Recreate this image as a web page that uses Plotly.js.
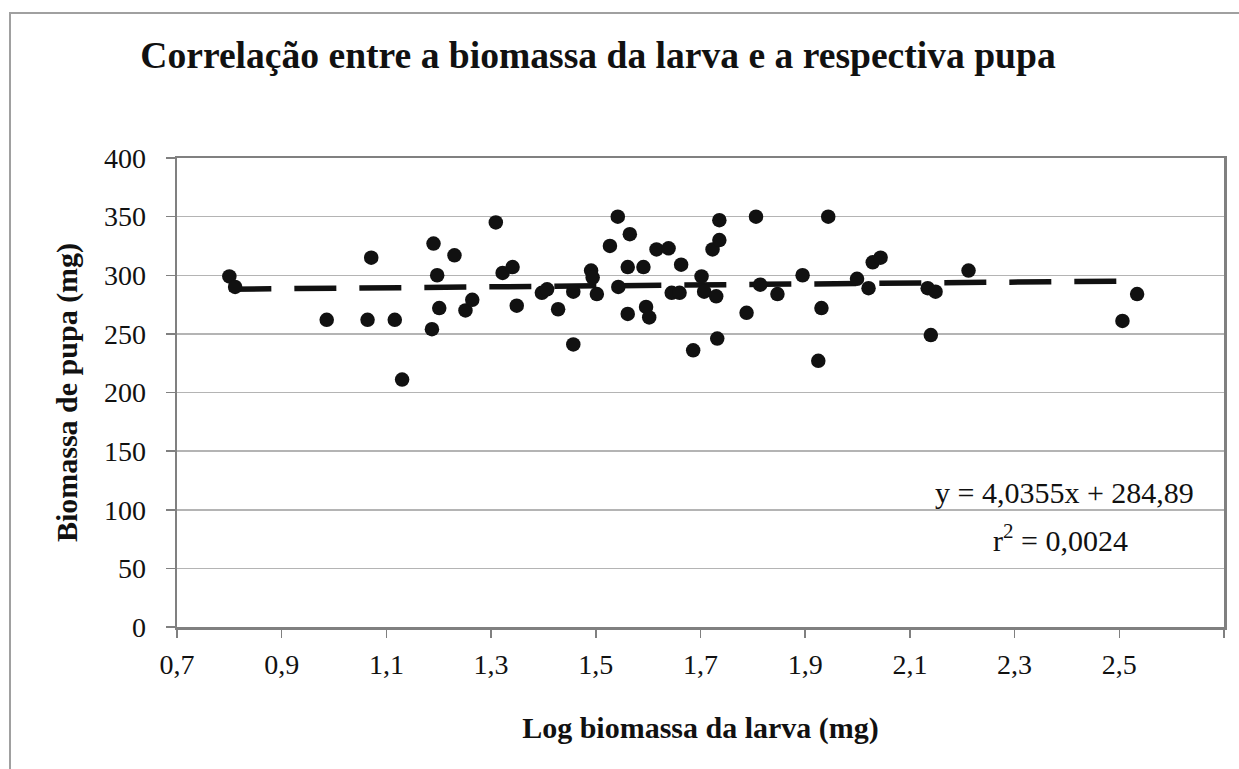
<!DOCTYPE html>
<html>
<head>
<meta charset="utf-8">
<script src="https://cdn.plot.ly/plotly-3.0.1.min.js"></script>
<style>
  html, body { margin: 0; padding: 0; background: #ffffff; }
  #chart { width: 1239px; height: 769px; }
</style>
</head>
<body>
<div id="chart"></div>
<script>
// Data
const logLarva = [
  0.800, 0.811, 0.986, 1.064, 1.071, 1.116, 1.130, 1.187, 1.190, 1.197,
  1.201, 1.230, 1.251, 1.264, 1.309, 1.322, 1.341, 1.349, 1.397, 1.407,
  1.428, 1.457, 1.457, 1.491, 1.494, 1.502, 1.527, 1.542, 1.543, 1.561,
  1.561, 1.565, 1.591, 1.596, 1.602, 1.616, 1.639, 1.645, 1.660, 1.663,
  1.686, 1.702, 1.707, 1.723, 1.730, 1.732, 1.736, 1.736, 1.788, 1.806,
  1.814, 1.847, 1.895, 1.925, 1.931, 1.944, 1.999, 2.021, 2.029, 2.044,
  2.134, 2.140, 2.149, 2.212, 2.506, 2.534
];
const pupaMass = [
  299, 290, 262, 262, 315, 262, 211, 254, 327, 300,
  272, 317, 270, 279, 345, 302, 307, 274, 285, 288,
  271, 241, 286, 304, 298, 284, 325, 350, 290, 307,
  267, 335, 307, 273, 264, 322, 323, 285, 285, 309,
  236, 299, 286, 322, 282, 246, 330, 347, 268, 350,
  292, 284, 300, 227, 272, 350, 297, 289, 311, 315,
  289, 249, 286, 304, 261, 284
];
// Trend line equation shown on the chart
const trendSlope = 4.0355;
const trendIntercept = 284.89;
const equationText = "y = 4,0355x + 284,89";
const r2Text = "r<sup>2</sup> = 0,0024";

const chartTitle = "Correlação entre a biomassa da larva e a respectiva pupa";
const xTitle = "Log biomassa da larva (mg)";
const yTitle = "Biomassa de pupa (mg)";

const xMin = Math.min(...logLarva);
const xMax = Math.max(...logLarva);
const trendX = [xMin, xMax];
const trendY = trendX.map(v => trendSlope * v + trendIntercept);

const serif = "Liberation Serif, Times New Roman, serif";

const traces = [
  {
    x: trendX, y: trendY,
    type: "scatter", mode: "lines",
    line: { color: "#111111", width: 5.5, dash: "42px,23px" },
    hoverinfo: "skip", showlegend: false
  },
  {
    x: logLarva, y: pupaMass,
    type: "scatter", mode: "markers",
    marker: { color: "#111111", size: 14.5 },
    showlegend: false
  }
];

const layout = {
  width: 1239, height: 769,
  margin: { l: 177, r: 15, t: 158, b: 142 },
  paper_bgcolor: "#ffffff", plot_bgcolor: "#ffffff",
  font: { family: serif, color: "#111111" },
  showlegend: false,
  title: {
    text: "<b>" + chartTitle + "</b>",
    font: { family: serif, size: 37.6, color: "#111111" },
    x: 598 / 1239, xref: "container", xanchor: "center",
    y: 1 - 55 / 769, yref: "container", yanchor: "middle"
  },
  xaxis: {
    range: [0.7, 2.7],
    tickvals: [0.7, 0.9, 1.1, 1.3, 1.5, 1.7, 1.9, 2.1, 2.3, 2.5, 2.7],
    tickformat: ".1f",
    ticks: "outside", ticklen: 8, tickwidth: 1.5, tickcolor: "#808080",
    ticklabelstandoff: 3,
    showgrid: false, zeroline: false,
    showline: true, linecolor: "#808080", linewidth: 2.5, mirror: true,
    tickfont: { family: serif, size: 28, color: "#111111" },
    title: {
      text: "<b>" + xTitle + "</b>",
      font: { family: serif, size: 30, color: "#111111" },
      standoff: 38
    }
  },
  yaxis: {
    range: [0, 400],
    dtick: 50,
    ticks: "outside", ticklen: 9, tickwidth: 1.5, tickcolor: "#808080",
    ticklabelstandoff: 14,
    showgrid: true, gridcolor: "#b4b4b4", gridwidth: 1.5,
    zeroline: false,
    showline: true, linecolor: "#808080", linewidth: 2.5, mirror: true,
    tickfont: { family: serif, size: 28, color: "#111111" },
    title: {
      text: "<b>" + yTitle + "</b>",
      font: { family: serif, size: 30, color: "#111111" },
      standoff: 18
    }
  },
  separators: ",.",
  annotations: [
    {
      text: equationText, xref: "x", yref: "y",
      x: 2.396, y: 115, xanchor: "center", yanchor: "middle",
      showarrow: false, font: { family: serif, size: 30, color: "#111111" }
    },
    {
      text: r2Text, xref: "x", yref: "y",
      x: 2.388, y: 76, xanchor: "center", yanchor: "middle",
      showarrow: false, font: { family: serif, size: 30, color: "#111111" }
    }
  ],
  shapes: [
    {
      type: "rect", xref: "paper", yref: "paper",
      x0: (10 - 177) / 1047, x1: (1260 - 177) / 1047,
      y0: (627 - 790) / 469, y1: (627 - 13) / 469,
      line: { color: "#a0a0a0", width: 2 }, fillcolor: "rgba(0,0,0,0)",
      layer: "below"
    }
  ]
};

Plotly.newPlot("chart", traces, layout, { displayModeBar: false, staticPlot: true });
</script>
</body>
</html>
